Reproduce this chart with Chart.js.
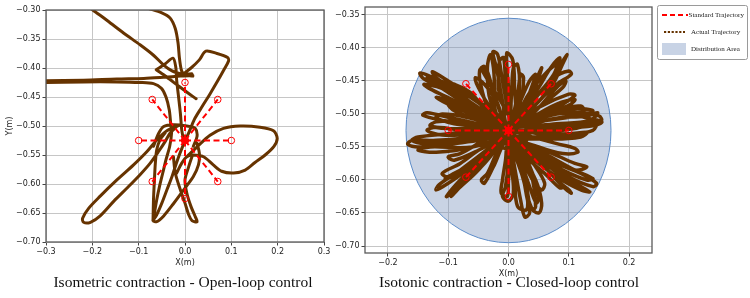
<!DOCTYPE html>
<html><head><meta charset="utf-8">
<script src="https://cdn.jsdelivr.net/npm/chart.js@4.4.0/dist/chart.umd.min.js"></script>
<style>
html,body{margin:0;padding:0;background:#fff;}
body{width:750px;height:298px;overflow:hidden;position:relative;}
canvas{position:absolute;top:0;}
#cL{left:0;} #cR{left:330px;}
.cap{position:absolute;top:273px;font-family:"Liberation Serif","Times New Roman",serif;font-size:15.5px;line-height:18px;text-align:center;color:#111;white-space:nowrap;}
#leg{position:absolute;left:657px;top:5px;}
#leg text{font-family:"Liberation Serif","Times New Roman",serif;font-size:7px;fill:#222;}
</style></head><body>
<canvas id="cL" width="345" height="298"></canvas>
<canvas id="cR" width="340" height="298"></canvas>
<div class="cap" style="left:33px;width:300px;">Isometric contraction - Open-loop control</div>
<div class="cap" style="left:359px;width:300px;">Isotonic contraction - Closed-loop control</div>
<svg id="leg" width="91" height="55">
  <rect x="0.5" y="0.5" width="90" height="54" rx="2" fill="#fff" stroke="#9a9a9a" stroke-width="1"/>
  <line x1="5" y1="10" x2="31" y2="10" stroke="#ff0000" stroke-width="2" stroke-dasharray="5,3"/>
  <text x="31.5" y="12.4">Standard Trajectory</text>
  <line x1="7" y1="27" x2="28" y2="27" stroke="#663300" stroke-width="2.2" stroke-dasharray="2.2,1.6"/>
  <text x="34" y="29.4">Actual Trajectory</text>
  <rect x="5" y="38" width="24" height="12" fill="rgb(200,211,229)"/>
  <text x="34" y="46.4">Distribution Area</text>
</svg>
<script>
// ---- Standard trajectory (targets around the centre) ----
const stdCenter = [0, -0.525];
const stdTargetsX = [0.1, 0.0707, 0, -0.0707, -0.1, -0.0707, 0, 0.0707];
const stdTargetsY = [-0.525, -0.4543, -0.425, -0.4543, -0.525, -0.5957, -0.625, -0.5957];

// ---- Distribution area (closed-loop) ----
const areaCenter = [0, -0.525];
const areaRadius = 0.17;

// ---- Tick values ----
const leftXTicks = [-0.3, -0.2, -0.1, 0, 0.1, 0.2, 0.3];
const leftYTicks = [-0.70, -0.65, -0.60, -0.55, -0.50, -0.45, -0.40, -0.35, -0.30];
const rightXTicks = [-0.2, -0.1, 0, 0.1, 0.2];
const rightYTicks = [-0.70, -0.65, -0.60, -0.55, -0.50, -0.45, -0.40, -0.35];

// ---- Actual trajectory, open-loop (null = break) ----
const openLoopTrajectory = [
  [-0.205,-0.296],[-0.199,-0.300],[-0.168,-0.318],[-0.132,-0.340],[-0.097,-0.360],[-0.068,-0.378],[-0.046,-0.395],[-0.028,-0.405],[-0.010,-0.410],[0.008,-0.413],[0.017,-0.414],
  null,
  [-0.080,-0.297],[-0.050,-0.305],[-0.032,-0.314],[-0.021,-0.332],[-0.015,-0.357],[-0.012,-0.383],[-0.008,-0.403],[-0.003,-0.410],[0.015,-0.410],
  null,
  [-0.305,-0.422],[-0.219,-0.421],[-0.147,-0.419],[-0.089,-0.418],[-0.046,-0.416],[-0.010,-0.414],[0.017,-0.413],
  null,
  [-0.305,-0.425],[-0.219,-0.424],[-0.147,-0.424],[-0.097,-0.425],[-0.068,-0.427],[-0.051,-0.435],[-0.041,-0.450],[-0.034,-0.472],[-0.031,-0.495],[-0.029,-0.512],[-0.033,-0.535],[-0.041,-0.558],[-0.048,-0.581],[-0.055,-0.604],[-0.061,-0.627],[-0.066,-0.650],[-0.069,-0.663],[-0.061,-0.665],[-0.046,-0.655],[-0.025,-0.634],[0.000,-0.607],[0.018,-0.587],[0.029,-0.567],[0.031,-0.547],[0.026,-0.530],
  null,
  [-0.062,-0.403],[-0.043,-0.393],[-0.026,-0.383],[-0.020,-0.398],[-0.018,-0.421],[-0.014,-0.449],[-0.010,-0.478],[-0.007,-0.507],[-0.003,-0.524],
  null,
  [-0.062,-0.403],[-0.039,-0.416],[-0.014,-0.431],[0.008,-0.444],[0.024,-0.453],
  null,
  [-0.005,-0.411],[0.013,-0.400],[0.031,-0.386],[0.045,-0.371],[0.069,-0.375],[0.092,-0.382],[0.094,-0.388],[0.084,-0.403],[0.070,-0.423],[0.053,-0.446],[0.035,-0.469],[0.020,-0.489],[0.008,-0.512],[-0.005,-0.535],[-0.016,-0.558],[-0.028,-0.587],[-0.039,-0.610],[-0.050,-0.633],[-0.061,-0.653],[-0.069,-0.663],
  null,
  [-0.010,-0.498],[-0.039,-0.508],[-0.061,-0.524],[-0.082,-0.544],[-0.111,-0.567],[-0.147,-0.593],[-0.183,-0.621],[-0.208,-0.642],[-0.221,-0.659],[-0.219,-0.666],[-0.204,-0.666],[-0.183,-0.655],[-0.154,-0.630],[-0.125,-0.607],[-0.097,-0.584],[-0.075,-0.564],[-0.057,-0.544],[-0.043,-0.527],[-0.032,-0.512],[-0.018,-0.501],
  null,
  [0.004,-0.553],[0.026,-0.536],[0.054,-0.516],[0.083,-0.504],[0.119,-0.500],[0.162,-0.502],[0.191,-0.508],[0.199,-0.521],[0.192,-0.535],[0.173,-0.550],[0.151,-0.563],[0.130,-0.576],[0.105,-0.581],[0.079,-0.578],[0.061,-0.567],[0.040,-0.553],[0.018,-0.550],[0.004,-0.553],[-0.007,-0.564],[-0.018,-0.581],
  null,
  [-0.025,-0.553],[-0.021,-0.581],[-0.010,-0.610],[0.000,-0.633],[0.008,-0.653],[0.015,-0.663],[0.026,-0.665],[0.022,-0.656],[0.013,-0.639],[0.004,-0.616],[0.000,-0.593],[0.008,-0.570],[0.015,-0.553],
  null,
  [-0.069,-0.663],[-0.068,-0.627],[-0.066,-0.593],[-0.064,-0.564],[-0.061,-0.541],[-0.054,-0.524],[-0.043,-0.512],
  null,
  [-0.068,-0.535],[-0.057,-0.513],[-0.046,-0.501],[-0.025,-0.498],[0.004,-0.500],[0.022,-0.504],[0.026,-0.518],[0.018,-0.535]
];

// ---- Actual trajectory, closed-loop ----
const closedLoopTrajectory = [
  // east
  [0.00,-0.525],[0.05,-0.505],[0.11,-0.497],[0.150,-0.503],[0.154,-0.510],[0.12,-0.515],[0.06,-0.520],[0.00,-0.528],
  [0.04,-0.512],[0.09,-0.492],[0.12,-0.488],[0.125,-0.495],[0.09,-0.505],[0.03,-0.515],[0.00,-0.522],
  [0.06,-0.527],[0.11,-0.522],[0.145,-0.515],[0.140,-0.525],[0.10,-0.532],[0.05,-0.535],[0.00,-0.530],
  [0.07,-0.508],[0.13,-0.503],[0.148,-0.498],[0.135,-0.510],[0.08,-0.515],[0.00,-0.520],
  [0.06,-0.498],[0.11,-0.492],[0.14,-0.495],[0.12,-0.502],[0.06,-0.510],[0.00,-0.518],
  [0.05,-0.530],[0.10,-0.530],[0.13,-0.528],[0.12,-0.535],[0.07,-0.538],[0.00,-0.533],
  [0.08,-0.500],[0.14,-0.508],[0.155,-0.512],[0.14,-0.518],[0.08,-0.522],[0.00,-0.525],
  // north-east
  [0.03,-0.490],[0.07,-0.450],[0.09,-0.420],[0.097,-0.410],[0.092,-0.420],[0.07,-0.460],[0.03,-0.500],[0.00,-0.525],
  [0.04,-0.480],[0.075,-0.445],[0.10,-0.435],[0.104,-0.440],[0.08,-0.455],[0.04,-0.490],[0.01,-0.520],
  [0.03,-0.475],[0.06,-0.440],[0.08,-0.425],[0.075,-0.440],[0.05,-0.470],[0.02,-0.510],
  [0.05,-0.490],[0.10,-0.470],[0.11,-0.472],[0.08,-0.490],[0.03,-0.510],[0.00,-0.525],
  [0.02,-0.500],[0.05,-0.460],[0.07,-0.430],[0.085,-0.415],[0.08,-0.430],[0.06,-0.470],[0.02,-0.510],
  [0.04,-0.500],[0.08,-0.460],[0.095,-0.450],[0.09,-0.460],[0.05,-0.490],[0.00,-0.525],
  [0.03,-0.480],[0.045,-0.450],[0.055,-0.430],[0.05,-0.445],[0.035,-0.480],[0.00,-0.520],
  // north
  [-0.01,-0.480],[-0.02,-0.430],[-0.026,-0.406],[-0.018,-0.410],[-0.01,-0.450],[0.00,-0.500],[0.005,-0.525],
  [0.00,-0.460],[-0.003,-0.408],[0.007,-0.418],[0.01,-0.460],[0.01,-0.510],
  [-0.02,-0.470],[-0.04,-0.440],[-0.045,-0.430],[-0.035,-0.440],[-0.02,-0.480],[0.00,-0.520],
  [0.015,-0.470],[0.02,-0.440],[0.025,-0.445],[0.02,-0.480],[0.00,-0.525],
  [-0.03,-0.480],[-0.035,-0.430],[-0.03,-0.410],[-0.025,-0.430],[-0.02,-0.480],[0.00,-0.520],
  [0.005,-0.470],[0.008,-0.430],[0.015,-0.425],[0.018,-0.460],[0.01,-0.510],
  [-0.015,-0.470],[-0.015,-0.420],[-0.008,-0.415],[-0.005,-0.460],[0.00,-0.525],
  [-0.03,-0.500],[-0.045,-0.460],[-0.048,-0.435],[-0.04,-0.428],[-0.03,-0.450],[-0.02,-0.500],[0.00,-0.525],
  // north-west
  [-0.04,-0.490],[-0.09,-0.460],[-0.13,-0.443],[-0.147,-0.438],[-0.14,-0.447],[-0.09,-0.470],[-0.04,-0.500],[0.00,-0.525],
  [-0.05,-0.480],[-0.10,-0.450],[-0.126,-0.436],[-0.12,-0.445],[-0.08,-0.470],[-0.03,-0.510],
  [-0.06,-0.470],[-0.09,-0.455],[-0.11,-0.452],[-0.09,-0.465],[-0.05,-0.490],[0.00,-0.520],
  [-0.05,-0.500],[-0.10,-0.480],[-0.12,-0.475],[-0.10,-0.485],[-0.05,-0.505],[0.00,-0.525],
  [-0.04,-0.500],[-0.08,-0.470],[-0.11,-0.455],[-0.135,-0.445],[-0.12,-0.455],[-0.08,-0.480],[-0.03,-0.515],
  [-0.06,-0.490],[-0.10,-0.465],[-0.14,-0.455],[-0.13,-0.462],[-0.09,-0.480],[-0.04,-0.505],[0.00,-0.525],
  // west
  [-0.05,-0.515],[-0.10,-0.505],[-0.135,-0.498],[-0.142,-0.502],[-0.11,-0.510],[-0.05,-0.520],[0.00,-0.525],
  [-0.06,-0.535],[-0.12,-0.540],[-0.160,-0.540],[-0.167,-0.546],[-0.15,-0.550],[-0.09,-0.545],[-0.03,-0.535],
  [-0.08,-0.525],[-0.12,-0.520],[-0.135,-0.525],[-0.11,-0.532],[-0.05,-0.530],[0.00,-0.525],
  [-0.07,-0.505],[-0.11,-0.500],[-0.12,-0.505],[-0.09,-0.515],[-0.04,-0.520],[0.00,-0.530],
  [-0.06,-0.550],[-0.13,-0.550],[-0.15,-0.555],[-0.12,-0.558],[-0.06,-0.550],[0.00,-0.530],
  [-0.05,-0.525],[-0.10,-0.530],[-0.15,-0.535],[-0.16,-0.540],[-0.14,-0.545],[-0.09,-0.540],[-0.03,-0.530],
  [-0.07,-0.512],[-0.12,-0.512],[-0.13,-0.518],[-0.10,-0.522],[-0.04,-0.522],[0.00,-0.525],
  // south-west
  [-0.03,-0.550],[-0.07,-0.585],[-0.10,-0.605],[-0.12,-0.615],[-0.115,-0.607],[-0.08,-0.585],[-0.03,-0.550],[0.00,-0.525],
  [-0.04,-0.565],[-0.08,-0.600],[-0.103,-0.625],[-0.095,-0.620],[-0.07,-0.595],[-0.03,-0.560],
  [-0.05,-0.575],[-0.085,-0.592],[-0.105,-0.598],[-0.09,-0.590],[-0.05,-0.570],[0.00,-0.530],
  [-0.03,-0.560],[-0.06,-0.590],[-0.09,-0.615],[-0.095,-0.625],[-0.085,-0.615],[-0.05,-0.585],[-0.02,-0.550],
  [-0.04,-0.550],[-0.08,-0.575],[-0.11,-0.590],[-0.10,-0.595],[-0.07,-0.580],[-0.03,-0.555],[0.00,-0.525],
  // south
  [0.00,-0.570],[-0.005,-0.610],[-0.01,-0.625],[0.00,-0.632],[0.008,-0.620],[0.005,-0.580],[0.00,-0.530],
  [0.01,-0.580],[0.02,-0.630],[0.027,-0.656],[0.035,-0.650],[0.03,-0.610],[0.02,-0.560],[0.005,-0.530],
  [0.02,-0.570],[0.035,-0.610],[0.046,-0.635],[0.05,-0.625],[0.04,-0.590],[0.02,-0.550],[0.00,-0.525],
  [0.01,-0.600],[0.015,-0.640],[0.03,-0.645],[0.03,-0.620],[0.015,-0.570],[0.00,-0.530],
  [-0.005,-0.570],[-0.01,-0.600],[-0.012,-0.620],[-0.002,-0.625],[0.00,-0.600],[0.005,-0.560],
  [0.02,-0.580],[0.03,-0.620],[0.04,-0.645],[0.045,-0.640],[0.04,-0.600],[0.025,-0.560],[0.00,-0.530],
  [0.01,-0.560],[0.025,-0.600],[0.035,-0.640],[0.05,-0.650],[0.055,-0.635],[0.045,-0.600],[0.02,-0.560],[0.00,-0.530],
  // south-east
  [0.03,-0.550],[0.08,-0.575],[0.12,-0.590],[0.146,-0.605],[0.14,-0.610],[0.10,-0.595],[0.05,-0.565],[0.00,-0.530],
  [0.04,-0.560],[0.09,-0.595],[0.12,-0.610],[0.135,-0.618],[0.12,-0.615],[0.08,-0.595],[0.03,-0.560],
  [0.05,-0.570],[0.08,-0.600],[0.10,-0.615],[0.104,-0.620],[0.09,-0.610],[0.06,-0.580],[0.02,-0.545],
  [0.06,-0.555],[0.11,-0.575],[0.13,-0.580],[0.11,-0.585],[0.06,-0.565],[0.00,-0.525],
  [0.03,-0.545],[0.07,-0.565],[0.11,-0.585],[0.14,-0.598],[0.13,-0.600],[0.09,-0.585],[0.04,-0.560],
  [0.03,-0.565],[0.06,-0.590],[0.085,-0.612],[0.09,-0.610],[0.07,-0.590],[0.03,-0.555],[0.00,-0.525],
  // in-between lobes
  [0.04,-0.535],[0.08,-0.545],[0.11,-0.552],[0.115,-0.558],[0.09,-0.560],[0.05,-0.550],[0.00,-0.530],
  [0.04,-0.505],[0.08,-0.485],[0.11,-0.478],[0.10,-0.487],[0.06,-0.500],[0.00,-0.520],
  [0.02,-0.480],[0.035,-0.450],[0.045,-0.440],[0.04,-0.455],[0.025,-0.490],[0.00,-0.525],
  [-0.02,-0.480],[-0.04,-0.455],[-0.055,-0.445],[-0.05,-0.460],[-0.03,-0.490],[0.00,-0.520],
  [-0.04,-0.505],[-0.08,-0.490],[-0.10,-0.485],[-0.09,-0.495],[-0.05,-0.510],[0.00,-0.525],
  [-0.04,-0.540],[-0.08,-0.560],[-0.10,-0.565],[-0.09,-0.570],[-0.05,-0.555],[0.00,-0.530],
  [-0.02,-0.560],[-0.035,-0.590],[-0.045,-0.600],[-0.04,-0.605],[-0.025,-0.580],[0.00,-0.535],
  [0.02,-0.565],[0.04,-0.600],[0.055,-0.615],[0.06,-0.605],[0.045,-0.580],[0.02,-0.550],[0.00,-0.525],
  // centre
  [0.02,-0.510],[0.03,-0.530],[0.01,-0.545],[-0.02,-0.540],[-0.03,-0.515],[-0.01,-0.500],[0.02,-0.505],[0.035,-0.525],[0.02,-0.550],[-0.015,-0.550],[-0.035,-0.530],[-0.025,-0.505],[0.00,-0.525]
];

// ---- helpers ----
const toPts = arr => arr.map(p => p ? {x: p[0], y: p[1]} : {x: null, y: null});
function starPath() {
  const pts = [];
  for (let i = 0; i < stdTargetsX.length; i++) {
    pts.push({x: stdCenter[0], y: stdCenter[1]});
    pts.push({x: stdTargetsX[i], y: stdTargetsY[i]});
    pts.push({x: null, y: null});
  }
  return pts;
}
const fmt = (v, d) => { if (Math.abs(v) < 1e-9) v = 0; return v.toFixed(d).replace('-', '\u2212'); };

const BROWN = '#663300';
const RED = '#ff0000';
const tickFont = {family: 'DejaVu Sans', size: 8};

const framePlugin = {
  id: 'frame',
  afterDatasetsDraw(chart) {
    const {ctx, chartArea: a} = chart;
    ctx.save();
    ctx.strokeStyle = '#5a5a5a';
    ctx.lineWidth = 1.3;
    ctx.strokeRect(a.left, a.top, a.right - a.left, a.bottom - a.top);
    ctx.restore();
  }
};

const areaPlugin = {
  id: 'area',
  beforeDatasetsDraw(chart) {
    const {ctx, chartArea: a, scales: {x, y}} = chart;
    const cx = x.getPixelForValue(areaCenter[0]);
    const cy = y.getPixelForValue(areaCenter[1]);
    const rx = Math.abs(x.getPixelForValue(areaCenter[0] + areaRadius) - cx);
    const ry = Math.abs(y.getPixelForValue(areaCenter[1] + areaRadius) - cy);
    ctx.save();
    ctx.beginPath();
    ctx.rect(a.left, a.top, a.right - a.left, a.bottom - a.top);
    ctx.clip();
    ctx.beginPath();
    ctx.ellipse(cx, cy, rx, ry, 0, 0, Math.PI * 2);
    ctx.fillStyle = 'rgba(120,145,188,0.4)';
    ctx.fill();
    ctx.strokeStyle = '#5b8bc8';
    ctx.lineWidth = 1;
    ctx.stroke();
    ctx.restore();
  }
};

function makeChart(id, traj, tension, lw, xr, yr, xt, yt, yTitle, pad, yW, xH, xTitlePad, plugins) {
  return new Chart(document.getElementById(id), {
    type: 'line',
    data: {
      datasets: [
        {
          data: starPath(), order: 0,
          borderColor: RED, borderWidth: 2, borderDash: [6, 3.5],
          pointRadius: 3.3, pointBorderColor: RED, pointBackgroundColor: 'rgba(0,0,0,0)', pointBorderWidth: 1,
          tension: 0, fill: false, spanGaps: false
        },
        {
          data: toPts(traj), order: 1,
          borderColor: BROWN, borderWidth: lw, pointRadius: 0, tension: tension,
          borderJoinStyle: 'round', borderCapStyle: 'round', spanGaps: false, fill: false
        }
      ]
    },
    options: {
      responsive: false, animation: false, devicePixelRatio: 1,
      layout: {padding: pad},
      plugins: {legend: {display: false}, tooltip: {enabled: false}},
      scales: {
        x: {
          type: 'linear', min: xr[0], max: xr[1],
          afterBuildTicks: s => { s.ticks = xt.map(v => ({value: v})); },
          afterFit: s => { s.height = xH; },
          ticks: {font: tickFont, color: '#222', padding: 2, maxRotation: 0, autoSkip: false,
                  callback: v => fmt(v, 1)},
          grid: {color: '#c6c6c6', lineWidth: 1, tickLength: 3.5, tickColor: '#444', drawTicks: true},
          border: {display: false},
          title: {display: true, text: 'X(m)', font: tickFont, color: '#222', padding: {top: 0, bottom: xTitlePad}}
        },
        y: {
          type: 'linear', min: yr[0], max: yr[1],
          afterBuildTicks: s => { s.ticks = yt.map(v => ({value: v})); },
          afterFit: s => { s.width = yW; },
          ticks: {font: tickFont, color: '#222', padding: 2, autoSkip: false,
                  callback: v => fmt(v, 2)},
          grid: {color: '#c6c6c6', lineWidth: 1, tickLength: 3.5, tickColor: '#444', drawTicks: true},
          border: {display: false},
          title: {display: !!yTitle, text: yTitle || '', font: tickFont, color: '#222', padding: {top: 5, bottom: 0}}
        }
      }
    },
    plugins: plugins
  });
}

makeChart('cL', openLoopTrajectory, 0.3, 3, [-0.3, 0.3], [-0.70, -0.30], leftXTicks, leftYTicks, 'Y(m)',
  {left: 0, top: 10, right: 21, bottom: 0}, 46, 56, 30, [framePlugin]);
makeChart('cR', closedLoopTrajectory, 0.35, 3.5, [-0.238, 0.238], [-0.7106, -0.338], rightXTicks, rightYTicks, null,
  {left: 0, top: 7, right: 18, bottom: 0}, 35, 45, 19, [areaPlugin, framePlugin]);
</script>
</body></html>
